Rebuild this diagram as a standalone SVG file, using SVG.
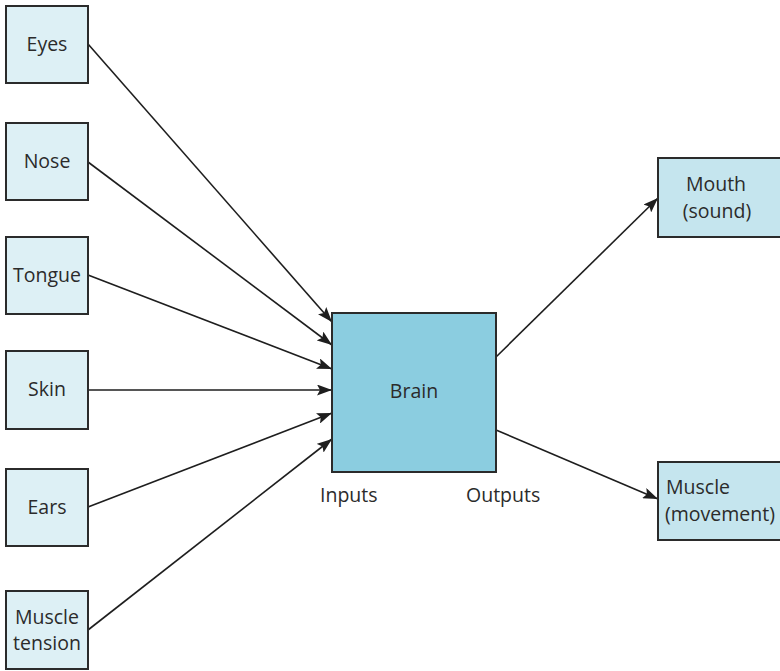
<svg xmlns="http://www.w3.org/2000/svg" width="780" height="671" viewBox="0 0 780 671">
  <style>
    .sense { fill: #ddf0f5; stroke: #2b2b2b; stroke-width: 2; }
    .brain { fill: #8bcde0; stroke: #2b2b2b; stroke-width: 2; }
    .out { fill: #c5e5ee; stroke: #2b2b2b; stroke-width: 2; }
    text { font-family: "Open Sans", "Noto Sans", "Liberation Sans", sans-serif; font-size: 19.5px; fill: #2b2b2b; }
    .c { text-anchor: middle; }
    .link { stroke: #1e1e1e; stroke-width: 1.6; fill: none; marker-end: url(#arrow); }
  </style>
  <defs>
    <marker id="arrow" viewBox="0 0 15 11" refX="15" refY="5.5" markerWidth="15" markerHeight="11" markerUnits="userSpaceOnUse" orient="auto">
      <path d="M0,0 L15,5.5 L0,11 L3,5.5 z" fill="#1e1e1e"/>
    </marker>
  </defs>

  <g id="connectors">
    <line class="link" x1="88" y1="44" x2="332" y2="322"/>
    <line class="link" x1="88" y1="162" x2="332" y2="345"/>
    <line class="link" x1="88" y1="275" x2="332" y2="369"/>
    <line class="link" x1="88" y1="390" x2="332" y2="390"/>
    <line class="link" x1="88" y1="507" x2="332" y2="413"/>
    <line class="link" x1="88" y1="630" x2="332" y2="439"/>
    <line class="link" x1="496" y1="357" x2="658" y2="198"/>
    <line class="link" x1="496" y1="430" x2="658" y2="499"/>
  </g>

  <g id="eyes">
    <rect class="sense" x="6" y="6" width="82" height="77"/>
    <text class="c" x="47" y="51">Eyes</text>
  </g>
  <g id="nose">
    <rect class="sense" x="6" y="123" width="82" height="77"/>
    <text class="c" x="47" y="168">Nose</text>
  </g>
  <g id="tongue">
    <rect class="sense" x="6" y="237" width="82" height="77"/>
    <text class="c" x="47" y="282">Tongue</text>
  </g>
  <g id="skin">
    <rect class="sense" x="6" y="351" width="82" height="78"/>
    <text class="c" x="47" y="396">Skin</text>
  </g>
  <g id="ears">
    <rect class="sense" x="6" y="469" width="82" height="77"/>
    <text class="c" x="47" y="514">Ears</text>
  </g>
  <g id="muscle-tension">
    <rect class="sense" x="6" y="591" width="82" height="78"/>
    <text class="c" x="47" y="624">Muscle</text>
    <text class="c" x="47" y="650">tension</text>
  </g>

  <g id="brain">
    <rect class="brain" x="332" y="313" width="164" height="159"/>
    <text class="c" x="414" y="398">Brain</text>
  </g>
  <text x="320" y="502">Inputs</text>
  <text x="466" y="502">Outputs</text>

  <g id="mouth">
    <rect class="out" x="658" y="158" width="130" height="79"/>
    <text class="c" x="716" y="191">Mouth</text>
    <text class="c" x="717" y="218">(sound)</text>
  </g>
  <g id="muscle-movement">
    <rect class="out" x="658" y="462" width="130" height="78"/>
    <text x="666" y="494">Muscle</text>
    <text x="665" y="521">(movement)</text>
  </g>
</svg>
